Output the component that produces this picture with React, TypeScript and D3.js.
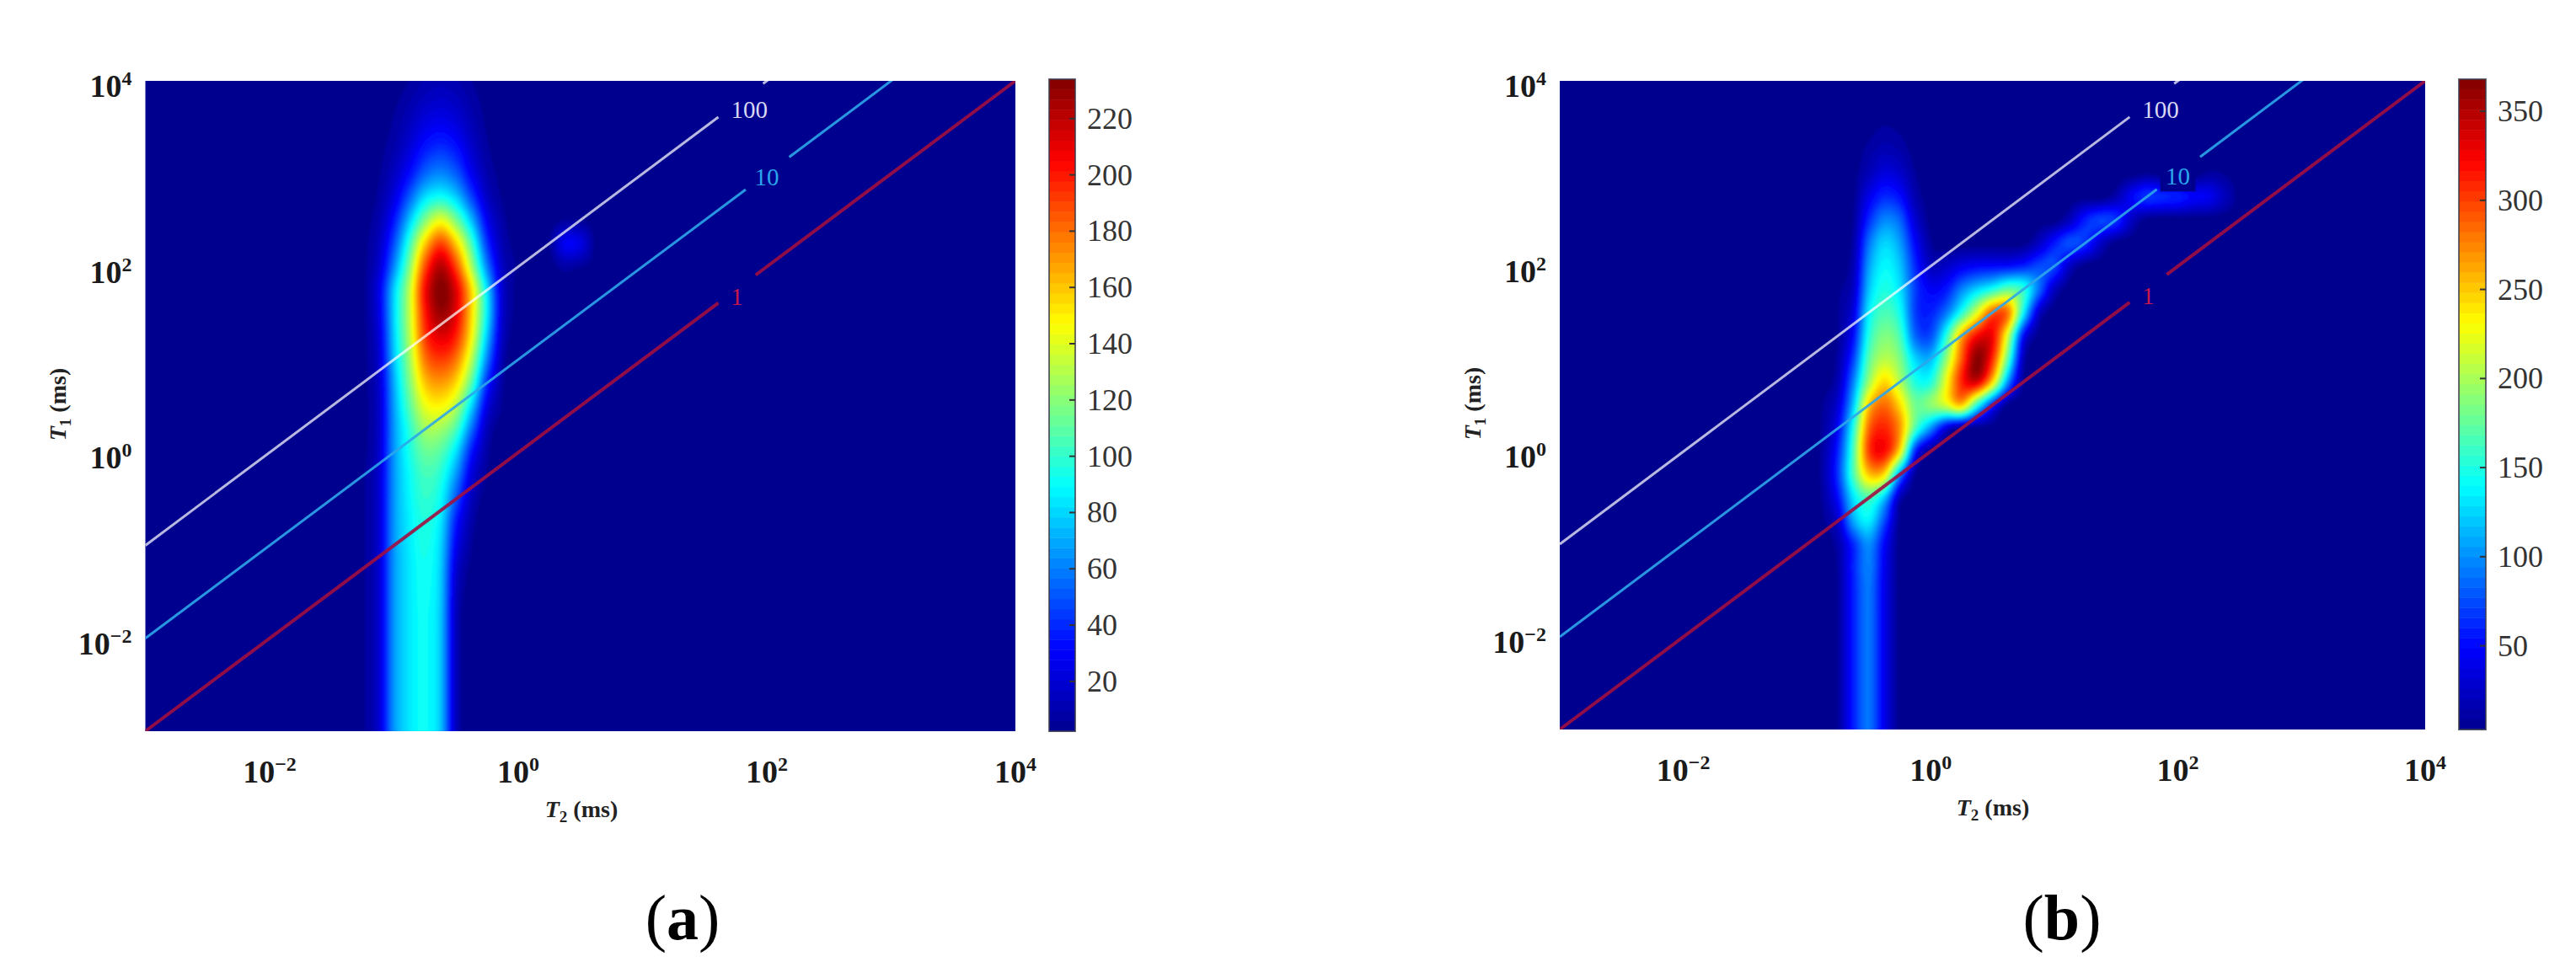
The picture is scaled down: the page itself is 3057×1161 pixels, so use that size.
import * as d3 from 'd3';

// log10 positions of the hand read grid (T1 rows run top to bottom)
const t1Log = [4, 3.75, 3.5, 3.25, 3, 2.75, 2.5, 2.25, 2, 1.75, 1.5, 1.25, 1, 0.75, 0.5, 0.25, 0, -0.25, -0.5, -0.75, -1, -1.25, -1.5, -1.75, -2, -2.25, -2.5, -2.75, -3];
const t2LogA = [-1.5, -1.375, -1.25, -1.125, -1, -0.875, -0.75, -0.625, -0.5, -0.375, -0.25, -0.125, 0, 0.125, 0.25, 0.375, 0.5, 0.625];
const t2LogB = [-1, -0.875, -0.75, -0.625, -0.5, -0.375, -0.25, -0.125, 0, 0.125, 0.25, 0.375, 0.5, 0.625, 0.75, 0.875, 1, 1.125, 1.25, 1.375, 1.5, 1.625, 1.75, 1.875, 2, 2.125, 2.25, 2.375, 2.5, 2.625];

// amplitudes; short rows stay at the floor value to the right
const amplitudeA = [
  [2, 2, 2, 2, 3, 6, 10, 12, 10, 6, 3, 2],
  [2, 2, 2, 3, 5, 10, 16, 19, 16, 9, 4, 2],
  [2, 2, 2, 3, 7, 15, 25, 29, 24, 13, 5, 2],
  [2, 2, 2, 4, 10, 22, 37, 43, 36, 19, 7, 3],
  [2, 2, 3, 5, 15, 33, 54, 62, 52, 28, 10, 4],
  [2, 2, 3, 7, 23, 52, 82, 92, 78, 46, 16, 5],
  [2, 2, 4, 10, 35, 76, 118, 142, 116, 74, 28, 8, 3, 2, 3, 6, 5, 3],
  [2, 2, 4, 14, 48, 100, 158, 190, 158, 104, 42, 11, 4, 2, 5, 28, 24, 4],
  [2, 2, 4, 18, 62, 118, 188, 222, 190, 128, 60, 15, 5, 2, 3, 8, 6, 3],
  [2, 2, 4, 24, 78, 132, 205, 234, 212, 155, 82, 18, 4],
  [2, 2, 4, 23, 80, 133, 200, 228, 210, 155, 86, 18, 4],
  [2, 2, 4, 20, 78, 130, 192, 212, 198, 148, 76, 15, 3],
  [2, 2, 4, 18, 75, 124, 178, 192, 178, 130, 60, 10, 3],
  [2, 2, 4, 17, 70, 117, 160, 170, 155, 108, 40, 7],
  [2, 2, 4, 16, 67, 108, 142, 148, 130, 80, 24, 5],
  [2, 2, 4, 16, 65, 98, 125, 125, 105, 56, 13, 3],
  [2, 2, 4, 17, 65, 94, 112, 108, 82, 35, 8],
  [2, 2, 5, 18, 65, 90, 104, 97, 65, 22, 5],
  [2, 2, 5, 18, 65, 88, 100, 90, 50, 14, 3],
  [2, 2, 5, 18, 65, 86, 96, 84, 36, 9],
  [2, 2, 5, 18, 65, 85, 94, 80, 28, 6],
  [2, 2, 5, 18, 65, 84, 92, 78, 20, 4],
  [2, 2, 5, 18, 65, 84, 91, 77, 16, 3],
  [2, 2, 5, 18, 65, 84, 90, 76, 14, 2],
  [2, 2, 5, 18, 65, 84, 90, 76, 14, 2],
  [2, 2, 5, 18, 65, 84, 90, 76, 14, 2],
  [2, 2, 5, 18, 65, 84, 90, 76, 14, 2],
  [2, 2, 5, 18, 65, 84, 90, 76, 14, 2],
  [2, 2, 5, 18, 65, 84, 90, 76, 14, 2],
];

const amplitudeB = [
  [3, 3, 3, 3, 3, 3, 3],
  [3, 3, 3, 3, 4, 5, 4],
  [3, 3, 3, 3, 6, 9, 7, 3],
  [3, 3, 3, 4, 11, 18, 14, 5],
  [3, 3, 3, 5, 20, 35, 28, 9, 3, 3, 3, 3, 3, 3, 3, 3, 3, 3, 3, 3, 3, 3, 8, 3, 3, 3, 10, 8],
  [3, 3, 3, 6, 40, 62, 52, 16, 4, 3, 3, 3, 3, 3, 3, 3, 3, 3, 3, 3, 16, 46, 66, 62, 58, 46, 42, 22, 5],
  [3, 3, 3, 9, 62, 96, 84, 30, 5, 3, 3, 3, 3, 3, 3, 3, 3, 22, 58, 72, 64, 24, 5],
  [3, 3, 4, 13, 88, 125, 105, 48, 10, 3, 3, 3, 3, 3, 5, 24, 55, 76, 64, 26, 5],
  [3, 3, 5, 18, 105, 138, 120, 62, 22, 26, 40, 48, 50, 52, 60, 74, 72, 24, 4],
  [3, 4, 7, 25, 118, 150, 130, 70, 45, 55, 95, 125, 148, 175, 155, 88, 24],
  [3, 4, 8, 36, 135, 165, 145, 70, 60, 90, 150, 220, 290, 280, 140, 28],
  [3, 4, 8, 50, 150, 185, 165, 85, 75, 150, 260, 320, 325, 215, 50, 5],
  [3, 5, 12, 70, 170, 205, 185, 125, 115, 190, 290, 365, 310, 170, 20],
  [3, 5, 18, 95, 195, 245, 205, 150, 150, 225, 310, 335, 245, 100, 8],
  [3, 8, 32, 120, 250, 285, 245, 180, 190, 215, 250, 150, 60, 5],
  [3, 10, 46, 150, 285, 310, 270, 165, 100, 35, 5],
  [3, 12, 60, 165, 300, 320, 240, 60, 6],
  [3, 13, 66, 165, 250, 240, 100, 8],
  [3, 10, 50, 130, 165, 120, 20],
  [3, 7, 28, 108, 135, 75, 6],
  [3, 4, 14, 62, 100, 48, 4],
  [3, 3, 10, 60, 94, 43, 4],
  [3, 3, 9, 58, 90, 40, 4],
  [3, 3, 9, 58, 90, 40, 4],
  [3, 3, 9, 58, 90, 40, 4],
  [3, 3, 9, 58, 90, 40, 4],
  [3, 3, 9, 58, 90, 40, 4],
  [3, 3, 9, 58, 90, 40, 4],
  [3, 3, 9, 58, 90, 40, 4],
];

const colorTicksA = [20, 40, 60, 80, 100, 120, 140, 160, 180, 200, 220];
const colorTicksB = [50, 100, 150, 200, 250, 300, 350];
const colorDomainA = [2.3, 234];
const colorDomainB = [3, 368];

const logTicks = [-2, 0, 2, 4];

// T1/T2 guide lines with the T2 range left open for their inline label
const ratios = [100, 10, 1];
const ratioLabels = ['100', '10', '1'];
const ratioColors = ['#ffffff', '#2ba6ea', '#a01040'];
const ratioOpacity = [0.72, 0.9, 0.9];
const ratioWidths = [3, 3, 4];
const gapStart = [1.61, 1.83, 1.61];
const gapEnd = [1.97, 2.18, 1.91];
const labelT2 = [1.86, 2.0, 1.76];
const labelT1 = [3.69, 2.97, 1.68];
const labelColors = ['#d8d8f4', '#2ba6ea', '#c8184c'];

const NAVY = '#00008f';
const LEVELS = 64;
const FONT = '"Liberation Serif", "Times New Roman", serif';

const jet = d3
  .scaleLinear<string>()
  .domain([0, 0.125, 0.375, 0.625, 0.875, 1])
  .range(['#00008f', '#0000ff', '#00ffff', '#ffff00', '#ff0000', '#800000'])
  .clamp(true);

function catmull(a: number, b: number, c: number, d: number, t: number) {
  return 0.5 * (2 * b + (c - a) * t + (2 * a - 5 * b + 4 * c - d) * t * t + (3 * b - a - 3 * c + d) * t * t * t);
}

// display smoothing only, like shading interp: the read values stay as they are in the arrays
function smoothGrid(rows: number[][], cols: number, fx: number, fy: number) {
  const floor = rows[0][0];
  const full = rows.map((r) => d3.range(cols).map((j) => r[j] ?? floor));
  const at = (i: number, j: number) =>
    full[Math.max(0, Math.min(full.length - 1, i))][Math.max(0, Math.min(cols - 1, j))];
  const w = (cols - 1) * fx + 1;
  const h = (full.length - 1) * fy + 1;
  const values = new Array(w * h);
  for (let y = 0; y < h; y++) {
    const i = Math.floor(y / fy);
    const ty = y / fy - i;
    for (let x = 0; x < w; x++) {
      const j = Math.floor(x / fx);
      const tx = x / fx - j;
      const col = [-1, 0, 1, 2].map((k) =>
        catmull(at(i + k, j - 1), at(i + k, j), at(i + k, j + 1), at(i + k, j + 2), tx)
      );
      values[y * w + x] = Math.max(floor, catmull(col[0], col[1], col[2], col[3], ty));
    }
  }
  return { values, w, h };
}

function Power({ x, y, exp, anchor }: { x: number; y: number; exp: number; anchor: string }) {
  return (
    <text x={x} y={y} textAnchor={anchor} fontFamily={FONT} fontWeight="bold" fontSize={38} fill="#1a1a1a">
      10
      <tspan dy={-14} fontSize={24}>
        {exp < 0 ? `\u2212${-exp}` : exp}
      </tspan>
    </text>
  );
}

interface PanelProps {
  id: string;
  left: number;
  right: number;
  top: number;
  bottom: number;
  barLeft: number;
  barRight: number;
  barTop: number;
  t2Log: number[];
  amplitude: number[][];
  colorDomain: number[];
  colorTicks: number[];
  xLabel: number;
  yLabel: number;
  tag: string;
  tagX: number;
}

function Panel(p: PanelProps) {
  const x = d3.scaleLog().domain([1e-3, 1e4]).range([p.left, p.right]);
  const y = d3.scaleLog().domain([1e-3, 1e4]).range([p.bottom, p.top]);
  const cy = d3.scaleLinear().domain(p.colorDomain).range([p.bottom, p.barTop]);
  const [c0, c1] = p.colorDomain;

  const fx = 6;
  const fy = 8;
  const grid = smoothGrid(p.amplitude, p.t2Log.length, fx, fy);
  const colIndex = d3.scaleLinear().domain([0, grid.w - 1]).range([p.t2Log[0], p.t2Log[p.t2Log.length - 1]]);
  const rowIndex = d3.scaleLinear().domain([0, grid.h - 1]).range([t1Log[0], t1Log[t1Log.length - 1]]);
  const toPlot = d3.geoTransform({
    point(gx, gy) {
      this.stream.point(x(10 ** colIndex(gx - 0.5)), y(10 ** rowIndex(gy - 0.5)));
    },
  });
  const path = d3.geoPath(toPlot);
  const levels = d3.range(1, LEVELS).map((i) => c0 + (i / LEVELS) * (c1 - c0));
  const bands = d3.contours().size([grid.w, grid.h]).thresholds(levels)(grid.values);

  const guide = d3.line<number>().x((d) => x(10 ** d));

  const barBands = d3.range(LEVELS);
  const barStep = (c1 - c0) / LEVELS;

  return (
    <g>
      <clipPath id={`plot-${p.id}`}>
        <rect x={p.left} y={p.top} width={p.right - p.left} height={p.bottom - p.top} />
      </clipPath>
      <rect x={p.left} y={p.top} width={p.right - p.left} height={p.bottom - p.top} fill={NAVY} />
      <g clipPath={`url(#plot-${p.id})`}>
        <g filter="url(#soft)">
          {bands.map((b, i) => (
            <path key={i} d={path(b) ?? ''} fill={jet((i + 1.5) / LEVELS)} />
          ))}
        </g>
        {ratios.map((r, i) => {
          const rLog = Math.log10(r);
          const seg = (a: number, b: number) =>
            guide.y((d) => y(10 ** (d + rLog)))([a, b]) ?? '';
          return (
            <g key={r} fill="none" stroke={ratioColors[i]} strokeOpacity={ratioOpacity[i]} strokeWidth={ratioWidths[i]}>
              <rect
                x={x(10 ** labelT2[i]) - 21}
                y={y(10 ** labelT1[i]) - 17}
                width={42}
                height={35}
                fill={NAVY}
                stroke="none"
              />
              <path d={seg(-3, gapStart[i])} filter="url(#softLine)" />
              <path d={seg(gapEnd[i], 4)} filter="url(#softLine)" />
              <text
                x={x(10 ** labelT2[i])}
                y={y(10 ** labelT1[i]) + 10}
                textAnchor="middle"
                fontFamily={FONT}
                fontSize={29}
                fill={labelColors[i]}
                stroke="none"
              >
                {ratioLabels[i]}
              </text>
            </g>
          );
        })}
      </g>

      {logTicks.map((t) => (
        <Power key={`x${t}`} x={x(10 ** t)} y={p.bottom + 61} exp={t} anchor="middle" />
      ))}
      {logTicks.map((t) => (
        <Power key={`y${t}`} x={p.left - 16} y={y(10 ** t) + 19} exp={t} anchor="end" />
      ))}

      <text x={p.xLabel} y={p.bottom + 102} textAnchor="middle" fontFamily={FONT} fontWeight="bold" fontSize={28} fill="#222">
        <tspan fontStyle="italic">T</tspan>
        <tspan dy={6} fontSize={19}>2</tspan>
        <tspan dy={-6}> (ms)</tspan>
      </text>
      <text
        transform={`translate(${p.yLabel},${(p.top + p.bottom) / 2 - 2}) rotate(-90)`}
        textAnchor="middle"
        fontFamily={FONT}
        fontWeight="bold"
        fontSize={28}
        fill="#222"
      >
        <tspan fontStyle="italic">T</tspan>
        <tspan dy={6} fontSize={19}>1</tspan>
        <tspan dy={-6}> (ms)</tspan>
      </text>

      {barBands.map((i) => (
        <rect
          key={i}
          x={p.barLeft}
          width={p.barRight - p.barLeft}
          y={cy(c0 + (i + 1) * barStep)}
          height={cy(c0 + i * barStep) - cy(c0 + (i + 1) * barStep) + 0.5}
          fill={jet((i + 0.5) / LEVELS)}
        />
      ))}
      <rect
        x={p.barLeft}
        y={p.barTop}
        width={p.barRight - p.barLeft}
        height={p.bottom - p.barTop}
        fill="none"
        stroke="#3a3a4a"
        strokeOpacity={0.75}
        strokeWidth={2}
      />
      {p.colorTicks.map((t) => (
        <g key={t}>
          <line x1={p.barRight - 7} x2={p.barRight} y1={cy(t)} y2={cy(t)} stroke="#333" strokeWidth={2} />
          <text x={p.barRight + 14} y={cy(t) + 12} fontFamily={FONT} fontSize={36} fill="#333">
            {t}
          </text>
        </g>
      ))}

      <text x={p.tagX} y={1115} textAnchor="middle" fontFamily={FONT} fontSize={76} fill="#000">
        (<tspan fontWeight="bold">{p.tag}</tspan>)
      </text>
    </g>
  );
}

export default function App() {
  return (
    <svg
      width={3057}
      height={1161}
      viewBox="0 0 3057 1161"
      style={{ position: 'fixed', left: 0, top: 0, display: 'block', background: '#fff' }}
    >
      <defs>
        <filter id="soft" x="0" y="0" width="100%" height="100%">
          <feGaussianBlur stdDeviation="1.6" />
        </filter>
        <filter id="softLine" filterUnits="userSpaceOnUse" x="0" y="0" width="3057" height="1161">
          <feGaussianBlur stdDeviation="0.6" />
        </filter>
      </defs>
      <Panel
        id="a"
        left={172.5}
        right={1205}
        top={96}
        bottom={868}
        barLeft={1245}
        barRight={1276}
        barTop={94}
        t2Log={t2LogA}
        amplitude={amplitudeA}
        colorDomain={colorDomainA}
        colorTicks={colorTicksA}
        xLabel={690}
        yLabel={78}
        tag="a"
        tagX={810}
      />
      <Panel
        id="b"
        left={1851}
        right={2878}
        top={96}
        bottom={866}
        barLeft={2918}
        barRight={2950}
        barTop={94}
        t2Log={t2LogB}
        amplitude={amplitudeB}
        colorDomain={colorDomainB}
        colorTicks={colorTicksB}
        xLabel={2365}
        yLabel={1757}
        tag="b"
        tagX={2447}
      />
    </svg>
  );
}
